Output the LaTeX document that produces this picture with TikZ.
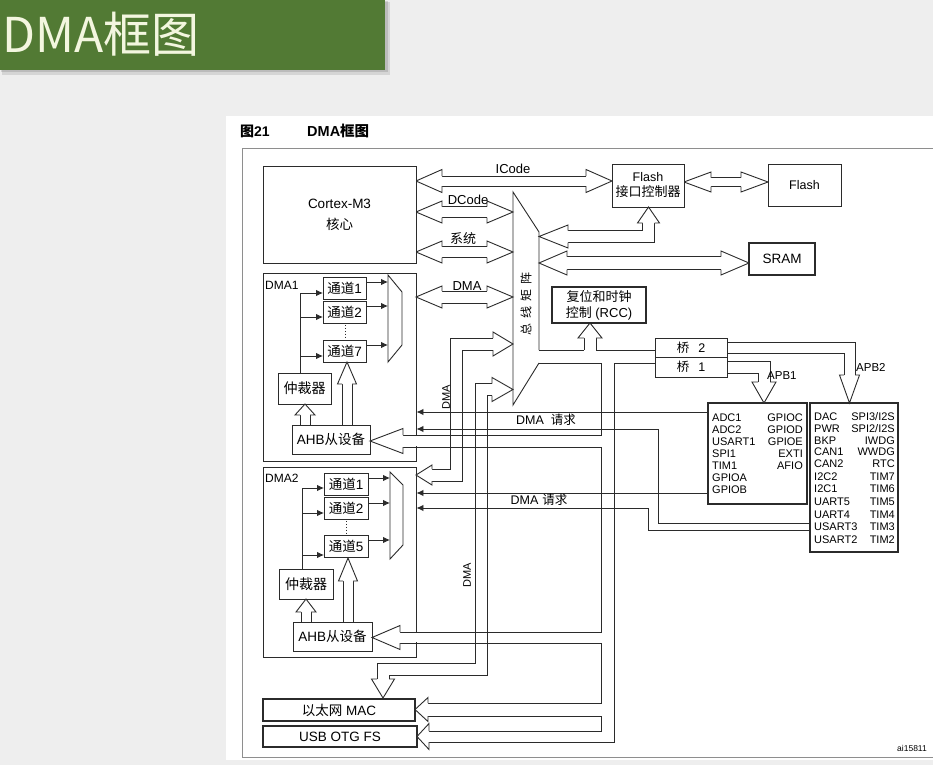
\documentclass[tikz,border=0pt]{standalone}
\usepackage{fontspec}
\setmainfont{Liberation Sans}
\newfontfamily\cjk{Noto Sans CJK SC}
\usetikzlibrary{arrows.meta}

\definecolor{ln}{HTML}{2B2B2B}
\definecolor{slidebg}{HTML}{EEEEEE}
\definecolor{hdr}{HTML}{527A34}
\definecolor{hdrtext}{HTML}{F3F6DF}
\definecolor{framec}{HTML}{8E8E8E}

\newcommand\spithree{SPI3/I2S}
\newcommand\spitwo{SPI2/I2S}

\tikzset{
  wire/.style={draw=ln, line width=0.9pt},
  box/.style={draw=ln, line width=0.9pt, fill=white, inner sep=0pt, align=center,
              font=\fontsize{13.5}{16}\selectfont},
  hbox/.style={box, line width=1.7pt},
  chan/.style={box, minimum width=43, minimum height=22, font=\fontsize{13.5}{14}\selectfont},
  req/.style={wire, -{Latex[length=7pt,width=6.5pt]}},
  lbl/.style={inner sep=0pt, font=\fontsize{13}{15}\selectfont},
  ptext/.style={inner sep=0pt, font=\fontsize{11}{12}\selectfont},
}

% open arrow head of a wide bus: tip, direction, head length, head half width, shaft half width
\newcommand\fhead[5]{%
  \begin{scope}[shift={#1},rotate=#2]
    \fill[white] (0,0) -- (-#3,#4) -- (-#3,-#4) -- cycle;
    \draw[wire, line join=miter] (-#3,#5) -- (-#3,#4) -- (0,0) -- (-#3,-#4) -- (-#3,-#5);
  \end{scope}}

% straight horizontal wide bus with heads at both ends:
% left tip x, right tip x, y, head length, head half width, shaft half width
\newcommand\hdarrow[6]{%
  \draw[wire] ({#1+#4},{#3-#6}) -- ({#2-#4},{#3-#6})
              ({#1+#4},{#3+#6}) -- ({#2-#4},{#3+#6});
  \fhead{(#1,#3)}{180}{#4}{#5}{#6}
  \fhead{(#2,#3)}{0}{#4}{#5}{#6}}

\begin{document}
\begin{tikzpicture}[x=1pt,y=-1pt]
\useasboundingbox (0,0) rectangle (933,765);

% slide and figure backgrounds
\fill[slidebg] (0,0) rectangle (933,765);
\fill[white] (226,116) rectangle (933,760);

% header bar
\fill[black,opacity=0.10] (2,2) rectangle (390,75);
\fill[black,opacity=0.12] (1,1) rectangle (388,72.5);
\fill[hdr] (0,0) rectangle (385,70);
\node[anchor=base west, inner sep=0pt, text=hdrtext, font=\cjk\fontsize{48}{48}\selectfont]
  (title) at (2,53) {DMA框图};

% figure caption and frame
\node[anchor=base west, inner sep=0pt, font=\bfseries\fontsize{14}{14}\selectfont]
  (fignum) at (240,136) {{\cjk 图}21};
\node[anchor=base west, inner sep=0pt, font=\bfseries\fontsize{14.5}{14}\selectfont]
  (figtitle) at (307,136) {DMA{\cjk 框图}};
\draw[framec, line width=0.8pt] (242,148) rectangle (960,757);

% DMA controller containers
\node[box, minimum width=153, minimum height=188] (dma1) at (339.5,367) {};
\node[box, minimum width=153, minimum height=190] (dma2) at (339.5,562) {};
\fill[white] (414,435.6) rectangle (418,446.4);
\fill[white] (414,632.6) rectangle (418,642.4);

% wide buses: Cortex-M3, Flash, SRAM
\hdarrow{416}{612}{181}{26}{11.5}{5}
\hdarrow{416}{513}{212}{26}{11}{5.5}
\hdarrow{416}{513}{252}{26}{11}{5.5}
\hdarrow{416}{513}{297}{26}{11}{6}
\hdarrow{684}{768}{182}{27}{10}{4.5}
\hdarrow{539}{749}{263}{28}{12}{6.5}
\draw[wire] (568,230.5) -- (642.5,230.5) -- (642.5,223)
            (568,242.5) -- (654.5,242.5) -- (654.5,223);

% DMA2 and Ethernet buses into the bus matrix
\draw[wire] (432,469) -- (450.5,469) -- (450.5,338) -- (493,338)
            (432,481) -- (462.5,481) -- (462.5,350) -- (493,350);
\draw[wire] (492,383.5) -- (475,383.5) -- (475,663) -- (377,663) -- (377,679)
            (492,395.5) -- (487,395.5) -- (487,675) -- (389,675) -- (389,679);

% APB buses
\draw[wire] (727,342.5) -- (855,342.5) -- (855,375)
            (727,353.5) -- (844,353.5) -- (844,375);
\draw[wire] (727,361) -- (770,361) -- (770,382)
            (727,373) -- (758,373) -- (758,382);

% buses inside the DMA controllers
\draw[wire] (300,425) -- (300,415) (310,425) -- (310,415);
\draw[wire] (342,425) -- (342,384) (352,425) -- (352,384);
\draw[wire] (301,622) -- (301,612) (311,622) -- (311,612);
\draw[wire] (343,622) -- (343,581) (353,622) -- (353,581);

% blocks
\node[box, minimum width=153, minimum height=97] (cortex) at (339.5,214.5)
  {Cortex-M3\\[5pt]{\cjk 核心}};
\node[box, minimum width=72, minimum height=43, font=\fontsize{12.5}{15}\selectfont]
  (flashif) at (648,185.5) {Flash\\{\cjk\fontsize{13}{15}\selectfont 接口控制器}};
\node[box, minimum width=73, minimum height=42, font=\fontsize{12.5}{15}\selectfont]
  (flash) at (804.5,185) {Flash};
\node[hbox, minimum width=66, minimum height=32] (sram) at (782,259) {SRAM};
\node[hbox, minimum width=94, minimum height=36, font=\fontsize{13}{16}\selectfont]
  (rcc) at (599,305) {{\cjk 复位和时钟}\\{\cjk 控制}~(RCC)};
\node[box, minimum width=72, minimum height=19.5, font=\fontsize{12.5}{14}\selectfont]
  (br2) at (691,347.75) {{\cjk 桥}\hspace{9pt}2};
\node[box, minimum width=72, minimum height=19.5, font=\fontsize{12.5}{14}\selectfont]
  (br1) at (691,367.25) {{\cjk 桥}\hspace{9pt}1};
\node[hbox, minimum width=99, minimum height=101] (apb1) at (757.5,453.5) {};
\node[hbox, minimum width=88, minimum height=149] (apb2) at (854,477.5) {};
\node[hbox, minimum width=152, minimum height=22] (eth) at (339,710) {{\cjk 以太网} MAC};
\node[hbox, minimum width=154, minimum height=21] (usb) at (340,736.5) {USB OTG FS};

% DMA1 internals
\node[anchor=west, inner sep=0pt, font=\fontsize{12}{12}\selectfont] (dma1name) at (265,285) {DMA1};
\node[chan] (d1c1) at (344.5,288) {{\cjk 通道}1};
\node[chan] (d1c2) at (344.5,312) {{\cjk 通道}2};
\node[chan] (d1c7) at (344.5,351) {{\cjk 通道}7};
\node[box, minimum width=53, minimum height=31, font=\cjk\fontsize{14}{14}\selectfont]
  (d1arb) at (304.5,388.5) {仲裁器};
\node[box, minimum width=78, minimum height=29] (d1ahb) at (331,439.5) {AHB{\cjk 从设备}};
\draw[wire, fill=white] (388,275) -- (402,292) -- (402,345) -- (388,362) -- cycle;
\draw[wire, dotted] (345,325) -- (345,338);
\draw[wire] (300,373) -- (300,293);
\foreach \y in {293,317,356} \draw[req] (300,\y) -- (323,\y);
\foreach \y in {282,306,345} \draw[req] (366,\y) -- (388,\y);

% DMA2 internals
\node[anchor=west, inner sep=0pt, font=\fontsize{12}{12}\selectfont] (dma2name) at (265,478) {DMA2};
\node[chan, minimum width=44] (d2c1) at (346,484) {{\cjk 通道}1};
\node[chan, minimum width=44] (d2c2) at (346,508) {{\cjk 通道}2};
\node[chan, minimum width=44] (d2c5) at (346,546.5) {{\cjk 通道}5};
\node[box, minimum width=54, minimum height=30, font=\cjk\fontsize{14}{14}\selectfont]
  (d2arb) at (306,584) {仲裁器};
\node[box, minimum width=79, minimum height=29] (d2ahb) at (332.5,636.5) {AHB{\cjk 从设备}};
\draw[wire, fill=white] (390,472) -- (403,485) -- (403,545) -- (390,559) -- cycle;
\draw[wire, dotted] (346,521) -- (346,533);
\draw[wire] (302,569) -- (302,488);
\foreach \y in {488,513,555} \draw[req] (302,\y) -- (324,\y);
\foreach \y in {478,503,540} \draw[req] (368,\y) -- (390,\y);

% bus matrix
\draw[wire, line join=miter] (539,350) -- (539,232) -- (513,192) -- (513,405) -- (539,363);
\node[rotate=90, inner sep=0pt, font=\cjk\fontsize{12}{12}\selectfont]
  (bmname) at (526,304) {总\hspace{5pt}线\hspace{5pt}矩\hspace{5pt}阵};

% AHB bus: matrix to bridges, RCC, DMA slaves, Ethernet and USB
\draw[wire] (539,350) -- (584,350) (596,350) -- (655,350);
\draw[wire] (584,338) -- (584,350) (596,338) -- (596,350);
\draw[wire] (539,363) -- (601,363) -- (601,435) -- (403,435);
\draw[wire] (403,447) -- (601,447) -- (601,632) -- (400,632);
\draw[wire] (400,643) -- (601,643) -- (601,703) -- (428,703);
\draw[wire] (428,716) -- (601,716) -- (601,731) -- (429,731);
\draw[wire] (655,363) -- (614,363) -- (614,742) -- (429,742);

% DMA request lines
\draw[req] (apb1.west |- 0,412) -- (dma1.east |- 0,412);
\draw[req] (apb2.west |- 0,523) -- (658,523) -- (658,429) -- (dma1.east |- 0,429);
\draw[req] (apb1.west |- 0,493) -- (dma2.east |- 0,493);
\draw[req] (apb2.west |- 0,530) -- (648,530) -- (648,508) -- (dma2.east |- 0,508);

% arrow heads of the wide buses
\fhead{(539,236.5)}{180}{29}{11.5}{6}
\fhead{(648.5,207)}{90}{16}{11}{6}
\fhead{(416,475)}{180}{16}{10}{6}
\fhead{(513,344)}{0}{20}{12}{6}
\fhead{(513,389.5)}{0}{21}{12}{6}
\fhead{(383,698)}{270}{19}{11.5}{6}
\fhead{(849.5,403)}{270}{28}{10}{5.5}
\fhead{(764,403)}{270}{21}{12}{6}
\fhead{(590,323)}{90}{15}{12}{6}
\fhead{(370,441)}{180}{33}{12.5}{6}
\fhead{(372,637.5)}{180}{28}{12}{5.5}
\fhead{(415,709.5)}{180}{13}{12}{6.5}
\fhead{(417,736.5)}{180}{12}{13}{5.5}
\fhead{(305,404)}{90}{11}{10}{5}
\fhead{(347,362)}{90}{22}{9.5}{5}
\fhead{(306,599)}{90}{13}{10}{5}
\fhead{(348,558)}{90}{23}{9.5}{5}

% bus labels
\node[lbl, anchor=base] (licode) at (513,173) {ICode};
\node[lbl, anchor=base] (ldcode) at (468,204) {DCode};
\node[lbl, anchor=base, font=\cjk\fontsize{13}{15}\selectfont] (lsys) at (463,243) {系统};
\node[lbl, anchor=base] (ldma1) at (467,290) {DMA};
\node[lbl, rotate=90, font=\fontsize{11}{12}\selectfont] (ldmav1) at (446,397) {DMA};
\node[lbl, rotate=90, font=\fontsize{11}{12}\selectfont] (ldmav2) at (467,575) {DMA};
\node[lbl, font=\fontsize{12.5}{14}\selectfont] (lreq1) at (546,420) {DMA\hspace{7pt}{\cjk 请求}};
\node[lbl, font=\fontsize{12.5}{14}\selectfont] (lreq2) at (539,500) {DMA\hspace{4pt}{\cjk 请求}};
\node[lbl, anchor=west, font=\fontsize{11.5}{12}\selectfont] (lapb1) at (767,376) {APB1};
\node[lbl, anchor=west, font=\fontsize{11.5}{12}\selectfont] (lapb2) at (856,367) {APB2};

% peripherals behind the bridges
\foreach \t/\y in {ADC1/418,ADC2/430,USART1/442,SPI1/454,TIM1/466,GPIOA/478,GPIOB/490}
  \node[ptext, anchor=west] (pa\y) at (712,\y) {\t};
\foreach \t/\y in {GPIOC/418,GPIOD/430,GPIOE/442,EXTI/454,AFIO/466}
  \node[ptext, anchor=east] (pb\y) at (803,\y) {\t};
\foreach \t/\y in {DAC/417,PWR/429,BKP/441,CAN1/452,CAN2/464,I2C2/477,I2C1/489,UART5/502,UART4/515,USART3/527,USART2/540}
  \node[ptext, anchor=west] (pc\y) at (814,\y) {\t};
\foreach \t/\y in {\spithree/417,\spitwo/429,IWDG/441,WWDG/452,RTC/464,TIM7/477,TIM6/489,TIM5/502,TIM4/515,TIM3/527,TIM2/540}
  \node[ptext, anchor=east] (pd\y) at (895,\y) {\t};

\node[anchor=east, inner sep=0pt, font=\fontsize{8.5}{9}\selectfont] (figid) at (927,748) {ai15811};
\end{tikzpicture}
\end{document}
